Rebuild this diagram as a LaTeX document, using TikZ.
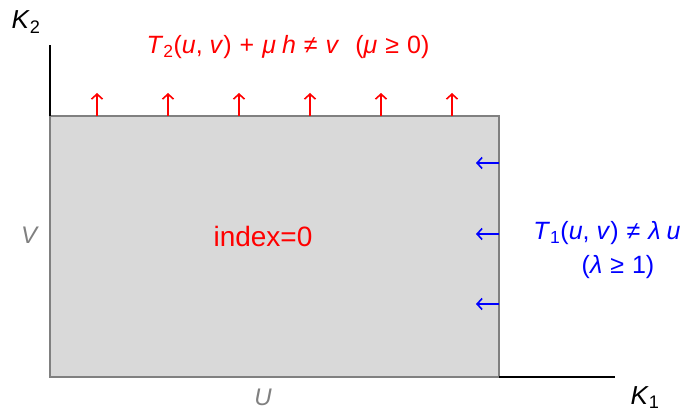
\documentclass[tikz,border=0pt]{standalone}
\usepackage{fontspec}
\setmainfont{Liberation Sans}
\usetikzlibrary{arrows.meta}
\definecolor{boxfill}{HTML}{D9D9D9}
\definecolor{boxedge}{HTML}{808080}
\definecolor{lblgray}{HTML}{808080}
\newcommand{\sub}[1]{\textsubscript{\upshape #1}}
\newcommand{\rel}[1]{\hspace{8pt}#1\hspace{8pt}}
\begin{document}
\begin{tikzpicture}[x=1pt,y=-1pt,
  axis/.style={black, line width=2pt},
  redarr/.style={red, line width=1.6pt, -{Straight Barb[length=5pt,width=11pt]}},
  bluearr/.style={blue, line width=1.6pt, -{Straight Barb[length=5pt,width=11pt]}},
  lbl/.style={inner sep=0pt, font=\fontsize{24}{29}\selectfont}]
\useasboundingbox (0,0) rectangle (686,412);
\node[draw=boxedge, fill=boxfill, line width=2pt, minimum width=449pt, minimum height=261pt,
  anchor=north west, inner sep=0pt, outer sep=0pt] (box) at (50,116) {};
\coordinate (ytop) at (50,45);
\coordinate (xend) at (615,377);
\draw[axis] (box.north west) -- (ytop);
\draw[axis] (box.south east) -- (xend);
\foreach \x [count=\i] in {97,168,239,310,381,452}{
  \coordinate (rs\i) at (\x,116);
  \coordinate (re\i) at (\x,93);
  \draw[redarr] (rs\i) -- (re\i);
}
\foreach \y [count=\i] in {163,234,304}{
  \coordinate (bs\i) at (499,\y);
  \coordinate (be\i) at (476,\y);
  \draw[bluearr] (bs\i) -- (be\i);
}
\node[lbl, font=\fontsize{26}{30}\selectfont] (k2) at (26,22) {\textit{K}\sub{2}};
\node[lbl, font=\fontsize{26}{30}\selectfont] (k1) at (645,398) {\textit{K}\sub{1}};
\node[lbl, lblgray] (V) at (30,235) {\textit{V}};
\node[lbl, lblgray] (U) at (263,397) {\textit{U}};
\node[lbl, red, font=\fontsize{28}{32}\selectfont] (idx) at (263,236) {index=0};
\node[lbl, red, font=\fontsize{25}{30}\selectfont] (t2) at (288,47)
  {\textit{T}\sub{2}(\textit{u}, \textit{v})\rel{+}\textit{μ\hspace{6pt}h}\rel{≠}\textit{v}\hspace{16pt}(\textit{μ}\rel{≥}0)};
\node[lbl, blue, font=\fontsize{25}{30}\selectfont] (t1) at (607,233)
  {\textit{T}\sub{1}(\textit{u}, \textit{v})\rel{≠}\textit{λ\hspace{6pt}u}};
\node[lbl, blue, font=\fontsize{25}{30}\selectfont] (lam) at (618,267)
  {(\textit{λ}\rel{≥}1)};
\end{tikzpicture}
\end{document}
